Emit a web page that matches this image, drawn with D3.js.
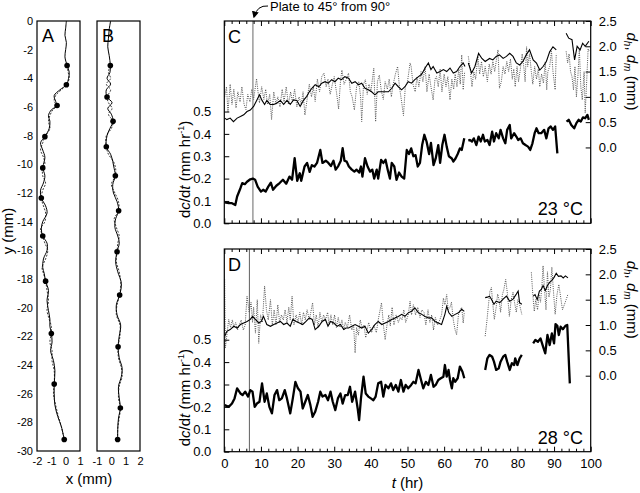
<!DOCTYPE html>
<html><head><meta charset="utf-8">
<script src="https://cdn.jsdelivr.net/npm/d3@7"></script>
<style>
body{margin:0;background:#fff}
svg{display:block}
text{font-family:"Liberation Sans",Arial,sans-serif;fill:#000}
</style>
</head><body>
<svg id="chart" width="640" height="493"></svg>
<script>
// ---------------- DATA ----------------
// Panel A & B paths: [x (mm), y (mm)]
const aSolid = [[0.05,0],[0.0,-0.5],[-0.05,-1.0],[0.05,-1.5],[0.0,-2.0],[-0.05,-2.5],[0.1,-3.1],[0.25,-3.6],[0.2,-4.0],[0.05,-4.45],[-0.4,-4.8],[-0.8,-5.2],[-0.7,-5.6],[-0.6,-5.9],[-1.0,-6.2],[-1.2,-6.6],[-1.1,-7.0],[-1.15,-7.5],[-1.45,-8.07],[-1.75,-8.5],[-1.6,-9.0],[-1.45,-9.5],[-1.55,-10.0],[-1.6,-10.25],[-1.45,-10.8],[-1.55,-11.3],[-1.75,-11.8],[-1.7,-12.35],[-1.4,-12.9],[-1.3,-13.4],[-1.6,-14.0],[-1.7,-14.5],[-1.6,-15.0],[-1.3,-15.5],[-1.3,-16.0],[-1.55,-16.6],[-1.6,-17.2],[-1.5,-17.6],[-1.4,-18.15],[-1.2,-18.8],[-1.3,-19.5],[-1.2,-20.2],[-1.1,-20.8],[-1.1,-21.3],[-1.0,-21.8],[-0.95,-22.4],[-1.05,-23.0],[-0.85,-23.7],[-0.75,-24.4],[-0.8,-25.33],[-0.8,-26.0],[-0.75,-26.8],[-0.55,-27.6],[-0.3,-28.3],[-0.1,-29.2]];
const aDashed = [[0.1,-3.1],[0.18,-3.6],[0.25,-4.0],[0.05,-4.45],[-0.3,-4.8],[-0.7,-5.2],[-0.8,-5.6],[-0.6,-5.9],[-0.9,-6.2],[-1.1,-6.6],[-1.2,-7.0],[-1.1,-7.5],[-1.45,-8.07],[-1.6,-8.5],[-1.75,-9.0],[-1.55,-9.5],[-1.45,-10.0],[-1.6,-10.25],[-1.6,-10.8],[-1.4,-11.3],[-1.6,-11.8],[-1.7,-12.35],[-1.55,-12.9],[-1.4,-13.4],[-1.45,-14.0],[-1.75,-14.5],[-1.6,-15.0],[-1.45,-15.5],[-1.25,-16.0],[-1.4,-16.6],[-1.65,-17.2],[-1.55,-17.6],[-1.4,-18.15],[-1.3,-18.8],[-1.2,-19.5],[-1.3,-20.2],[-1.15,-20.8],[-1.0,-21.3],[-1.0,-21.8],[-1.1,-22.4],[-0.95,-23.0],[-0.95,-23.7],[-0.8,-24.4],[-0.8,-25.33],[-0.85,-26.0],[-0.7,-26.8],[-0.5,-27.6],[-0.3,-28.3],[-0.1,-29.2]];
const aDots = [[0.1,-3.1],[0.05,-4.45],[-0.6,-5.9],[-1.45,-8.07],[-1.6,-10.25],[-1.7,-12.35],[-1.6,-15.0],[-1.4,-18.15],[-1.0,-21.8],[-0.8,-25.33],[-0.1,-29.2]];
const bSolid = [[-0.05,0],[-0.15,-0.6],[-0.2,-1.2],[-0.25,-1.8],[-0.15,-2.4],[-0.07,-3.1],[-0.1,-3.6],[-0.3,-4.0],[-0.05,-4.4],[-0.35,-4.8],[-0.3,-5.3],[0.05,-5.7],[-0.25,-6.1],[0.0,-6.5],[0.12,-7.0],[-0.1,-7.5],[-0.3,-8.0],[-0.35,-8.77],[-0.05,-9.3],[0.1,-9.8],[0.2,-10.3],[0.28,-10.8],[0.1,-11.4],[0.15,-12.0],[0.4,-12.6],[0.51,-13.24],[0.3,-13.8],[0.25,-14.4],[0.45,-15.0],[0.55,-15.5],[0.4,-16.1],[0.3,-16.8],[0.45,-17.5],[0.7,-18.3],[0.58,-19.12],[0.35,-19.8],[0.4,-20.5],[0.65,-21.2],[0.55,-22.0],[0.47,-22.73],[0.55,-23.5],[0.75,-24.2],[0.7,-24.8],[0.5,-25.5],[0.55,-26.3],[0.63,-27.0],[0.5,-27.7],[0.45,-28.4],[0.44,-29.2]];
const bDashed = [[-0.07,-3.1],[-0.2,-3.6],[-0.05,-4.0],[-0.35,-4.4],[-0.05,-4.8],[-0.3,-5.3],[-0.2,-5.7],[0.05,-6.1],[-0.2,-6.5],[0.12,-7.0],[0.0,-7.5],[-0.35,-8.0],[-0.35,-8.77],[-0.2,-9.3],[0.15,-9.8],[0.3,-10.3],[0.28,-10.8],[0.0,-11.4],[0.25,-12.0],[0.5,-12.6],[0.51,-13.24],[0.2,-13.8],[0.35,-14.4],[0.55,-15.0],[0.45,-15.5],[0.4,-16.1],[0.35,-16.8],[0.55,-17.5],[0.65,-18.3],[0.58,-19.12],[0.4,-19.8],[0.35,-20.5],[0.6,-21.2],[0.6,-22.0],[0.47,-22.73],[0.5,-23.5],[0.7,-24.2],[0.75,-24.8],[0.55,-25.5],[0.5,-26.3],[0.63,-27.0],[0.55,-27.7],[0.45,-28.4],[0.44,-29.2]];
const bDots = [[-0.07,-3.1],[-0.3,-5.3],[0.12,-7.0],[-0.35,-8.77],[0.28,-10.8],[0.51,-13.24],[0.4,-16.1],[0.58,-19.12],[0.47,-22.73],[0.63,-27.0],[0.44,-29.2]];

// Panel C (23 °C): [t (hr), value]
const cRate = [
 [[0.1,0.094],[1.2,0.09],[2.1,0.09],[3.0,0.082],[3.5,0.12],[4.4,0.157],[4.9,0.18],[5.6,0.175],[6.2,0.186],[7.1,0.197],[7.8,0.2],[8.4,0.195],[9.1,0.164],[10.0,0.142],[10.6,0.15],[11.3,0.142],[12.0,0.164],[12.7,0.182],[13.3,0.15],[14.2,0.168],[15.1,0.18],[16.0,0.195],[16.9,0.177],[17.8,0.209],[18.5,0.195],[19.2,0.291],[19.9,0.19],[20.6,0.224],[21.0,0.19],[21.9,0.254],[22.6,0.27],[23.3,0.23],[23.9,0.26],[24.6,0.254],[25.3,0.27],[26.2,0.328],[26.8,0.27],[27.7,0.28],[28.4,0.27],[29.1,0.256],[29.8,0.28],[30.4,0.24],[31.1,0.256],[31.8,0.28],[32.3,0.336],[32.8,0.28],[33.4,0.276],[34.0,0.254],[34.8,0.24],[35.5,0.231],[36.1,0.24],[36.8,0.227],[37.3,0.254],[37.7,0.209],[38.4,0.291],[39.1,0.254],[39.8,0.231],[40.4,0.24],[40.9,0.2],[41.6,0.24],[42.0,0.2],[42.8,0.284],[43.4,0.27],[44.0,0.284],[44.6,0.24],[45.2,0.2],[45.7,0.27],[46.4,0.254],[47.0,0.194],[47.7,0.227],[48.4,0.209],[49.1,0.2],[49.8,0.328],[50.4,0.31],[51.0,0.335],[51.6,0.3],[52.2,0.305],[52.8,0.254],[53.4,0.27],[54.0,0.35],[54.6,0.396],[55.2,0.366],[55.9,0.31],[56.4,0.36],[57.1,0.26],[57.7,0.29],[58.4,0.35],[58.9,0.27],[59.5,0.35],[60.1,0.396],[60.7,0.343],[61.3,0.3],[62.1,0.29],[62.5,0.276],[63.1,0.29],[63.7,0.31],[64.3,0.335],[64.8,0.328],[65.5,0.381]],
 [[66.6,0.37],[67.0,0.373],[67.6,0.366],[68.1,0.38],[68.8,0.35],[69.4,0.388],[70.0,0.366],[70.6,0.396],[71.1,0.366],[71.8,0.373],[72.4,0.35],[73.1,0.41],[73.6,0.366],[74.2,0.403],[74.9,0.38],[75.4,0.418],[76.1,0.38],[76.7,0.358],[77.2,0.418],[77.9,0.44],[78.3,0.38],[79.1,0.403],[79.7,0.388],[80.2,0.373],[80.9,0.38],[81.5,0.358],[82.2,0.35],[82.9,0.343],[83.5,0.328],[84.1,0.358],[84.7,0.403],[85.2,0.425],[85.8,0.403],[86.5,0.403],[87.3,0.418],[87.9,0.38],[88.5,0.425],[89.1,0.433],[89.7,0.418],[90.3,0.433],[90.9,0.313]],
 [[93.4,0.455],[94.0,0.463],[94.7,0.44],[95.5,0.425],[96.1,0.448],[96.7,0.463],[97.3,0.455],[97.9,0.474],[98.5,0.47],[99.1,0.485],[99.5,0.463]]
];
const cDh = [
 [[0.1,0.58],[0.7,0.55],[1.6,0.58],[2.5,0.51],[3.5,0.58],[4.4,0.61],[5.3,0.645],[6.2,0.71],[7.1,0.74],[8.0,0.81],[8.9,0.94],[9.6,1.04],[10.3,0.93],[11.0,0.85],[11.6,0.93],[12.5,0.85],[13.5,0.85],[14.4,0.88],[15.3,0.93],[16.2,0.85],[17.1,0.93],[18.0,0.85],[18.9,0.94],[19.8,0.93],[20.7,0.81],[21.6,0.93],[22.5,1.01],[23.2,1.1],[23.9,1.17],[24.8,1.24],[25.8,1.2],[26.6,1.27],[27.5,1.3],[28.4,1.27],[29.3,1.34],[30.2,1.3],[31.1,1.37],[32.0,1.34],[32.9,1.4],[33.9,1.37],[34.8,1.27],[35.7,1.3],[36.6,1.24],[37.5,1.27],[38.4,1.17],[39.3,1.14],[40.2,1.1],[41.1,1.04],[42.0,1.1],[43.0,1.1],[43.9,1.1],[44.8,1.1],[45.7,1.17],[46.6,1.27],[47.5,1.2],[48.4,1.14],[49.3,1.2],[50.2,1.3],[51.1,1.27],[52.0,1.34],[53.0,1.4],[53.9,1.45],[54.8,1.57],[55.7,1.67],[56.4,1.54],[57.0,1.6],[58.0,1.47],[58.9,1.5],[59.8,1.54],[60.7,1.5],[61.6,1.57],[62.5,1.47],[63.4,1.5],[64.3,1.6],[65.2,1.67],[65.7,1.6]],
 [[66.6,1.67],[67.5,1.47],[68.4,1.6],[69.4,1.86],[70.3,1.76],[71.2,1.7],[72.4,1.76],[73.3,1.73],[74.2,1.8],[75.1,1.83],[76.1,1.76],[77.0,1.8],[77.9,1.86],[78.8,1.8],[79.7,1.67],[80.6,1.63],[81.5,1.7],[82.4,1.83],[83.3,1.93],[84.3,1.73],[85.2,1.67],[86.1,1.53],[87.0,1.6],[87.9,1.7],[88.8,1.89],[89.7,1.99],[90.6,1.93]],
 [[93.3,2.26],[94.0,2.16],[94.9,2.13],[95.6,1.73],[96.3,2.0],[97.1,1.93],[97.8,2.06],[98.5,2.0],[99.5,2.1]]
];
const cDm = [
 [[0.1,1.0],[0.6,1.2],[1.0,0.7],[1.6,1.25],[2.1,0.85],[2.6,1.15],[3.2,0.78],[3.7,1.1],[4.3,0.9],[4.8,1.2],[5.4,0.85],[5.9,0.75],[6.4,1.05],[7.0,0.9],[7.5,1.15],[8.0,0.95],[8.8,1.36],[9.2,1.1],[9.6,0.88],[10.2,1.2],[10.8,0.95],[11.3,1.15],[11.8,0.85],[12.4,1.05],[12.9,0.55],[13.5,1.1],[14.1,0.85],[14.6,1.0],[15.2,0.8],[15.8,1.15],[16.3,0.9],[16.9,1.2],[17.5,0.85],[18.1,1.1],[18.6,0.9],[19.2,1.15],[19.8,0.8],[20.4,1.0],[21.0,0.85],[21.5,1.1],[22.0,0.64],[22.6,0.95],[23.2,1.25],[23.8,1.0],[24.3,1.2],[24.8,0.91],[25.4,1.35],[26.0,1.1],[26.6,1.4],[27.2,1.47],[27.8,1.2],[28.3,1.35],[28.9,1.05],[29.5,1.25],[30.0,1.4],[30.6,1.1],[31.2,0.76],[31.7,1.3],[32.1,1.53],[32.7,1.25],[33.3,1.35],[33.9,1.47],[34.4,1.1],[34.9,1.0],[35.5,0.74],[36.1,1.2],[36.7,1.3],[37.2,1.0],[37.5,0.51],[38.0,1.25],[38.5,1.34],[39.0,1.05],[39.5,1.25],[40.0,1.1],[40.8,1.57],[41.3,0.51],[41.8,1.3],[42.3,1.43],[42.9,1.1],[43.4,0.95],[43.9,1.3],[44.5,1.15],[45.0,1.35],[45.6,1.0],[46.1,1.25],[46.7,1.45],[47.3,1.6],[47.8,1.2],[48.4,0.9],[48.9,0.63],[49.4,1.2],[50.0,1.3],[50.7,1.67],[51.0,1.6],[51.5,1.25],[52.1,1.1],[52.6,1.4],[53.1,1.2],[53.7,1.5],[54.2,1.3],[54.8,1.6],[55.3,1.1],[55.9,1.45],[56.4,1.2],[57.0,0.94],[57.5,1.35],[57.9,1.4],[58.4,1.2],[58.9,1.55],[59.4,1.1],[60.0,1.45],[60.5,1.2],[61.0,1.4],[61.6,0.94],[62.1,1.35],[62.6,1.15],[63.0,1.45],[63.5,1.2],[64.0,1.55],[64.4,1.25],[64.8,1.83],[65.2,1.14],[65.6,1.5]],
 [[66.6,1.8],[67.1,1.55],[67.6,1.2],[68.1,1.5],[68.6,1.35],[69.2,1.8],[69.7,1.45],[70.2,1.7],[70.7,1.4],[71.2,1.6],[71.8,1.3],[72.3,1.65],[72.8,1.45],[73.3,1.7],[73.8,1.5],[74.3,1.75],[74.7,1.93],[75.1,1.17],[75.6,1.3],[76.1,1.6],[76.6,1.45],[77.1,1.7],[77.6,1.5],[78.1,1.75],[78.6,1.35],[79.0,1.55],[79.4,1.2],[79.9,1.6],[80.3,1.3],[80.8,1.55],[81.3,1.85],[81.8,1.55],[82.1,1.3],[82.5,1.99],[82.8,1.6],[83.3,1.85],[83.8,1.5],[84.2,1.25],[84.7,1.6],[85.2,1.35],[85.7,1.55],[86.1,1.2],[86.6,1.45],[87.1,1.27],[87.6,1.7],[88.0,1.14],[88.3,1.5],[88.8,1.6],[89.3,1.9],[89.7,1.5],[90.3,1.14],[90.6,1.85]],
 [[93.3,1.9],[93.7,1.67],[94.1,1.85],[94.5,1.5],[94.9,1.4],[95.3,1.14],[95.7,1.6],[96.1,1.0],[96.5,1.4],[96.9,1.95],[97.3,1.2],[97.7,0.94],[98.2,1.5],[98.5,0.68],[98.9,1.3],[99.3,1.95],[99.6,1.9]]
];

// Panel D (28 °C)
const dRate = [
 [[0.1,0.208],[1.2,0.2],[2.1,0.215],[2.8,0.238],[3.5,0.283],[4.4,0.26],[5.0,0.253],[5.7,0.268],[6.5,0.246],[7.1,0.275],[7.7,0.268],[8.3,0.2],[8.9,0.215],[9.6,0.223],[10.3,0.305],[11.0,0.223],[11.6,0.26],[12.3,0.2],[13.0,0.171],[13.7,0.253],[14.4,0.275],[15.0,0.23],[15.7,0.238],[16.5,0.275],[17.1,0.238],[18.0,0.171],[18.7,0.238],[19.4,0.312],[20.1,0.283],[20.8,0.268],[21.4,0.193],[22.1,0.223],[22.8,0.253],[23.5,0.208],[24.1,0.156],[24.8,0.178],[25.6,0.223],[26.2,0.268],[26.8,0.246],[27.6,0.253],[28.3,0.23],[29.0,0.268],[29.6,0.223],[30.3,0.186],[31.0,0.238],[31.7,0.26],[32.3,0.215],[33.0,0.253],[33.7,0.253],[34.3,0.29],[34.9,0.223],[35.7,0.268],[36.4,0.193],[36.8,0.141],[37.3,0.238],[38.0,0.335],[38.6,0.26],[39.3,0.246],[40.0,0.238],[40.7,0.23],[41.3,0.246],[42.0,0.305],[42.8,0.312],[43.4,0.246],[44.0,0.298],[44.8,0.283],[45.5,0.305],[46.1,0.275],[46.8,0.298],[47.5,0.268],[48.2,0.32],[48.9,0.268],[49.5,0.298],[50.2,0.283],[51.0,0.298],[51.6,0.312],[52.2,0.305],[53.0,0.365],[53.7,0.32],[54.3,0.283],[55.0,0.312],[55.7,0.298],[56.4,0.343],[57.1,0.29],[57.7,0.298],[58.4,0.32],[59.1,0.328],[59.8,0.335],[60.2,0.387],[60.7,0.335],[61.2,0.365],[61.6,0.32],[62.1,0.283],[62.5,0.328],[63.0,0.312],[63.7,0.328],[64.3,0.38],[65.0,0.357],[65.5,0.328]],
 [[71.2,0.365],[71.8,0.417],[72.4,0.432],[73.1,0.424],[73.6,0.402],[74.2,0.365],[74.9,0.372],[75.4,0.402],[76.1,0.424],[76.7,0.432],[77.2,0.402],[77.9,0.365],[78.5,0.395],[79.1,0.387],[79.4,0.417],[80.0,0.387],[80.6,0.417],[81.2,0.432]],
 [[84.3,0.484],[84.9,0.499],[85.6,0.491],[86.3,0.506],[87.0,0.469],[87.6,0.439],[88.2,0.521],[88.8,0.476],[89.4,0.528],[90.0,0.484],[90.4,0.57],[90.9,0.562],[91.3,0.521],[91.8,0.558],[92.4,0.547],[93.1,0.562],[93.6,0.566],[94.3,0.305]]
];
const dDh = [
 [[0.1,0.78],[0.7,0.875],[1.6,0.91],[2.6,0.975],[3.5,0.94],[4.4,1.01],[5.3,1.04],[6.2,1.07],[7.1,1.11],[7.7,1.17],[8.5,1.11],[9.4,1.04],[10.1,1.07],[10.7,1.17],[11.6,1.01],[12.6,0.975],[13.5,1.01],[14.4,1.04],[15.3,1.07],[16.2,1.01],[17.1,1.04],[18.0,0.975],[18.7,1.11],[19.6,1.07],[20.5,1.04],[21.4,1.01],[22.3,1.07],[23.2,1.14],[24.0,1.11],[24.8,0.91],[25.8,0.975],[26.7,1.07],[27.6,1.11],[28.3,0.975],[29.0,1.07],[29.9,1.04],[30.8,0.975],[31.7,1.01],[32.6,0.91],[33.2,0.94],[33.9,0.94],[34.8,0.975],[35.7,1.01],[36.6,0.975],[37.5,0.94],[38.4,0.975],[39.3,0.84],[40.2,0.91],[41.1,1.01],[42.0,1.07],[43.0,1.01],[43.9,1.04],[44.8,1.07],[45.7,1.11],[46.6,1.14],[47.5,1.17],[48.4,1.21],[49.3,1.17],[50.2,1.24],[51.1,1.27],[52.0,1.34],[53.0,1.24],[53.9,1.21],[54.8,1.17],[55.7,1.14],[56.6,1.14],[57.5,1.07],[58.4,1.04],[59.3,1.01],[60.2,1.21],[60.7,1.37],[61.3,1.24],[62.1,1.17],[63.0,1.21],[63.9,1.24],[64.8,1.31],[65.5,1.27]],
 [[71.2,1.54],[71.8,1.55],[72.4,1.57],[72.9,1.51],[73.6,1.41],[74.2,1.47],[75.2,1.44],[76.1,1.51],[77.0,1.57],[77.9,1.47],[78.8,1.51],[79.7,1.61],[80.2,1.67],[80.6,1.44],[81.2,1.41]],
 [[84.3,1.57],[84.8,1.6],[85.4,1.5],[86.0,1.67],[86.5,1.7],[87.0,1.78],[87.6,1.68],[88.2,1.78],[88.8,1.84],[89.4,1.88],[90.0,1.94],[90.6,2.02],[91.2,1.96],[91.9,1.97],[92.5,1.93],[93.1,1.97],[93.8,1.93]]
];
const dDm = [
 [[0.1,1.9],[0.3,0.55],[0.7,0.8],[1.2,1.11],[1.7,0.95],[2.2,1.1],[2.6,0.95],[3.1,1.05],[3.6,0.9],[4.1,1.0],[4.6,1.1],[5.2,0.9],[5.7,1.0],[6.2,1.57],[6.8,1.25],[7.3,1.45],[7.7,1.05],[8.0,1.35],[8.5,0.84],[9.0,1.5],[9.4,0.64],[9.9,1.2],[10.4,1.05],[11.0,1.77],[11.5,1.3],[12.0,1.1],[12.6,1.5],[13.1,1.0],[13.6,1.3],[14.1,1.0],[14.6,1.4],[15.1,1.05],[15.6,1.2],[16.1,1.1],[16.6,1.3],[17.1,1.05],[17.6,1.35],[18.0,1.1],[18.5,1.57],[19.0,1.0],[19.6,1.2],[20.1,1.05],[20.6,1.25],[21.1,1.0],[21.6,1.25],[22.1,1.1],[22.6,1.3],[23.2,1.1],[23.6,1.25],[24.1,1.44],[24.6,1.0],[25.1,1.2],[25.6,0.95],[26.1,1.25],[26.6,1.05],[27.1,1.2],[27.6,1.1],[28.2,1.25],[28.6,1.0],[29.1,1.2],[29.6,1.0],[30.1,1.2],[30.6,0.95],[31.1,1.15],[31.6,0.95],[32.1,1.1],[32.6,0.9],[33.0,1.05],[33.6,0.95],[34.2,1.2],[34.8,0.9],[35.3,1.0],[35.7,0.45],[36.1,0.95],[36.6,0.8],[37.1,1.1],[37.6,0.95],[38.1,1.0],[38.6,0.75],[39.4,1.05],[40.2,0.85],[40.8,1.0],[41.5,0.85],[42.0,1.1],[42.9,1.44],[43.5,0.95],[43.9,0.71],[44.4,1.0],[44.9,1.2],[45.3,0.98],[45.8,1.35],[46.3,1.0],[46.9,1.2],[47.5,1.05],[48.0,1.15],[48.5,1.1],[49.0,1.3],[49.5,1.05],[50.2,1.2],[50.7,1.47],[51.1,1.2],[51.6,1.4],[52.2,1.2],[52.8,1.35],[53.4,1.15],[53.9,1.3],[54.5,1.25],[55.0,1.0],[55.6,1.3],[56.1,1.05],[56.6,1.2],[57.1,0.9],[57.6,1.15],[58.2,1.0],[58.8,1.1],[59.3,1.2],[59.8,1.53],[60.2,1.4],[60.7,1.6],[61.1,1.3],[61.6,1.35],[62.0,1.45],[62.5,1.1],[63.0,0.9],[63.4,0.81],[63.9,1.2],[64.4,1.3],[64.8,1.35],[65.2,1.04],[65.5,1.25]],
 [[71.2,0.78],[71.7,1.1],[72.1,1.4],[72.5,1.67],[72.9,1.74],[73.3,1.4],[73.7,1.11],[74.2,1.35],[74.6,1.61],[75.0,1.5],[75.4,1.25],[75.9,1.6],[76.3,1.7],[76.8,1.9],[77.3,1.6],[77.8,1.17],[78.3,1.5],[78.8,1.65],[79.2,1.45],[79.7,1.25],[80.1,1.5],[80.6,1.4],[81.2,1.21]],
 [[83.8,2.04],[84.2,1.6],[84.6,1.27],[85.0,1.5],[85.5,1.3],[85.9,1.6],[86.3,1.45],[86.7,1.8],[87.0,2.17],[87.4,1.7],[87.8,1.3],[88.2,2.05],[88.6,1.55],[89.0,1.7],[89.4,2.14],[89.8,1.7],[90.3,1.21],[90.8,1.6],[91.3,1.8],[91.8,1.55],[92.3,1.3],[92.8,1.4],[93.3,1.5],[93.8,1.61]]
];

const tMajor = [0,10,20,30,40,50,60,70,80,90,100];
const tMinor = [2,4,6,8,12,14,16,18,22,24,26,28,32,34,36,38,42,44,46,48,52,54,56,58,62,64,66,68,72,74,76,78,82,84,86,88,92,94,96,98];
const rateTicks = [0,0.1,0.2,0.3,0.4,0.5];
const dTicks = [0,0.5,1.0,1.5,2.0,2.5];
const abYTicks = [0,-2,-4,-6,-8,-10,-12,-14,-16,-18,-20,-22,-24,-26,-28,-30];
const aXTicks = [-2,-1,0,1];
const bXTicks = [-1,0,1,2];
const plateTime = {C:7.8, D:6.85};

// ---------------- DRAW ----------------
const svg = d3.select("#chart");
const FONT = '"Liberation Sans",Arial,sans-serif';

function styleAxis(g, size){
  g.attr("font-family", FONT).attr("font-size", size);
  g.select(".domain").remove();
  g.selectAll(".tick line").attr("stroke","#000");
  g.selectAll(".tick text").attr("fill","#000");
}

// ----- A & B -----
const yAB = d3.scaleLinear([-30,0],[451,21]);
const xA = d3.scaleLinear([-2,1],[37,80]);
const xB = d3.scaleLinear([-1,2],[97,140]);

function pathPanel(x, solid, dashed, dots, letter){
  const line = d3.line().x(d=>x(d[0])).y(d=>yAB(d[1])).curve(d3.curveCatmullRom);
  svg.append("path").attr("d", line(dashed)).attr("fill","none").attr("stroke","#222")
     .attr("stroke-width",0.9).attr("stroke-dasharray","2,1.5");
  svg.append("path").attr("d", line(solid)).attr("fill","none").attr("stroke","#000").attr("stroke-width",1);
  svg.selectAll(null).data(dots).enter().append("circle")
     .attr("cx",d=>x(d[0])).attr("cy",d=>yAB(d[1])).attr("r",2.8).attr("fill","#000");
  svg.append("rect").attr("x",x.range()[0]).attr("y",21).attr("width",x.range()[1]-x.range()[0])
     .attr("height",430).attr("fill","none").attr("stroke","#000").attr("stroke-width",1.2);
  svg.append("text").attr("x",x.range()[0]+5).attr("y",42).attr("font-size",18).text(letter);
}
pathPanel(xA, aSolid, aDashed, aDots, "A");
pathPanel(xB, bSolid, bDashed, bDots, "B");

svg.append("g").attr("transform","translate(37,0)")
  .call(d3.axisLeft(yAB).tickValues(abYTicks).tickSize(0).tickPadding(4).tickFormat(d=>String(d)))
  .call(g=>styleAxis(g,11));
svg.append("g").attr("transform","translate(0,451)")
  .call(d3.axisBottom(xA).tickValues(aXTicks).tickSize(0).tickPadding(6).tickFormat(d=>String(d)))
  .call(g=>styleAxis(g,11));
svg.append("g").attr("transform","translate(0,451)")
  .call(d3.axisBottom(xB).tickValues(bXTicks).tickSize(0).tickPadding(6).tickFormat(d=>String(d)))
  .call(g=>styleAxis(g,11));
svg.append("text").attr("x",89).attr("y",484).attr("text-anchor","middle").attr("font-size",15).text("x (mm)");
svg.append("text").attr("transform","translate(13,231) rotate(-90)").attr("text-anchor","middle").attr("font-size",15).text("y (mm)");

// ----- C & D -----
const xT = d3.scaleLinear([0,100],[224.3,590.7]);

function timePanel(top, bottom, rate, dh, dm, plate, plateColor, plateW, letter, temp, showX){
  const yL = d3.scaleLinear([0,0.905],[bottom,top]);
  const yR = d3.scaleLinear([-1.5,2.5],[bottom,top]);
  const clipId = "clip"+letter;
  svg.append("clipPath").attr("id",clipId).append("rect")
     .attr("x",xT(0)).attr("y",top).attr("width",xT(100)-xT(0)).attr("height",bottom-top);
  const g = svg.append("g").attr("clip-path",`url(#${clipId})`);
  g.append("line").attr("x1",xT(plate)).attr("x2",xT(plate)).attr("y1",top).attr("y2",bottom)
     .attr("stroke",plateColor).attr("stroke-width",plateW);
  const lR = d3.line().x(d=>xT(d[0])).y(d=>yR(d[1]));
  const lL = d3.line().x(d=>xT(d[0])).y(d=>yL(d[1]));
  dm.forEach(s=>g.append("path").attr("d",lR(s)).attr("fill","none").attr("stroke","#555")
     .attr("stroke-width",1).attr("stroke-dasharray","1,1.2"));
  dh.forEach(s=>g.append("path").attr("d",lR(s)).attr("fill","none").attr("stroke","#000").attr("stroke-width",1.1));
  rate.forEach(s=>g.append("path").attr("d",lL(s)).attr("fill","none").attr("stroke","#000")
     .attr("stroke-width",2.3).attr("stroke-linejoin","round"));
  svg.append("g").attr("transform",`translate(0,${bottom})`)
    .call(d3.axisBottom(xT).tickValues(tMajor).tickSize(-5).tickPadding(7).tickFormat(showX? d3.format("d") : ""))
    .call(g=>styleAxis(g,13));
  svg.append("g").attr("transform",`translate(0,${bottom})`)
    .call(d3.axisBottom(xT).tickValues(tMinor).tickSize(-3).tickFormat(""))
    .call(g=>styleAxis(g,13));
  svg.append("g").attr("transform",`translate(0,${top})`)
    .call(d3.axisTop(xT).tickValues(tMajor).tickSize(-5).tickFormat(""))
    .call(g=>styleAxis(g,13));
  svg.append("g").attr("transform",`translate(0,${top})`)
    .call(d3.axisTop(xT).tickValues(tMinor).tickSize(-3).tickFormat(""))
    .call(g=>styleAxis(g,13));
  svg.append("g").attr("transform",`translate(${xT(0)},0)`)
    .call(d3.axisLeft(yL).tickValues(rateTicks).tickSize(-5).tickPadding(13).tickFormat(d3.format(".1f")))
    .call(g=>styleAxis(g,13));
  svg.append("g").attr("transform",`translate(${xT(100)},0)`)
    .call(d3.axisRight(yR).tickValues(dTicks).tickSize(-5).tickPadding(8).tickFormat(d3.format(".1f")))
    .call(g=>styleAxis(g,13));
  svg.append("rect").attr("x",xT(0)).attr("y",top).attr("width",xT(100)-xT(0)).attr("height",bottom-top)
     .attr("fill","none").attr("stroke","#000").attr("stroke-width",1.2);
  svg.append("text").attr("x",228).attr("y",top+22).attr("font-size",18).text(letter);
  svg.append("text").attr("x",583).attr("y",bottom-8).attr("text-anchor","end").attr("font-size",18).text(temp);
  const midL = (yL(0)+yL(0.5))/2 + 2;
  const tl = svg.append("text").attr("transform",`translate(190,${midL}) rotate(-90)`)
     .attr("text-anchor","middle").attr("font-size",15);
  tl.append("tspan").text("d");
  tl.append("tspan").attr("font-style","italic").text("c");
  tl.append("tspan").text("/d");
  tl.append("tspan").attr("font-style","italic").text("t");
  tl.append("tspan").text(" (mm hr");
  tl.append("tspan").attr("font-size",9).attr("dy",-6).text("-1");
  tl.append("tspan").attr("dy",6).text(")");
  const midR = (yR(0.4)+yR(2.6))/2;
  const tr = svg.append("text").attr("transform",`translate(627,${midR}) rotate(90)`)
     .attr("text-anchor","middle").attr("font-size",15);
  tr.append("tspan").attr("font-style","italic").text("d");
  tr.append("tspan").attr("font-style","italic").attr("font-size",10).attr("dy",3).text("h");
  tr.append("tspan").attr("dy",-3).text(", ");
  tr.append("tspan").attr("font-style","italic").text("d");
  tr.append("tspan").attr("font-style","italic").attr("font-size",10).attr("dy",3).text("m");
  tr.append("tspan").attr("dy",-3).text(" (mm)");
}
timePanel(21, 223.3, cRate, cDh, cDm, plateTime.C, "#a0a0a0", 1.6, "C", "23 °C", false);
timePanel(249, 451.7, dRate, dDh, dDm, plateTime.D, "#606060", 1, "D", "28 °C", true);

const xl = svg.append("text").attr("x",407.5).attr("y",488).attr("text-anchor","middle").attr("font-size",15);
xl.append("tspan").attr("font-style","italic").text("t");
xl.append("tspan").text(" (hr)");

svg.append("defs").append("marker").attr("id","arr").attr("viewBox","0 0 10 10")
  .attr("refX",8).attr("refY",5).attr("markerWidth",7).attr("markerHeight",7).attr("orient","auto")
  .append("path").attr("d","M0,0 L10,5 L0,10 Z").attr("fill","#000");
svg.append("path").attr("d",`M268,6 Q257,5 254,17`).attr("fill","none").attr("stroke","#000")
  .attr("stroke-width",1).attr("marker-end","url(#arr)");
svg.append("text").attr("x",270).attr("y",11).attr("font-size",13).text("Plate to 45° from 90°");
</script>
</body></html>
